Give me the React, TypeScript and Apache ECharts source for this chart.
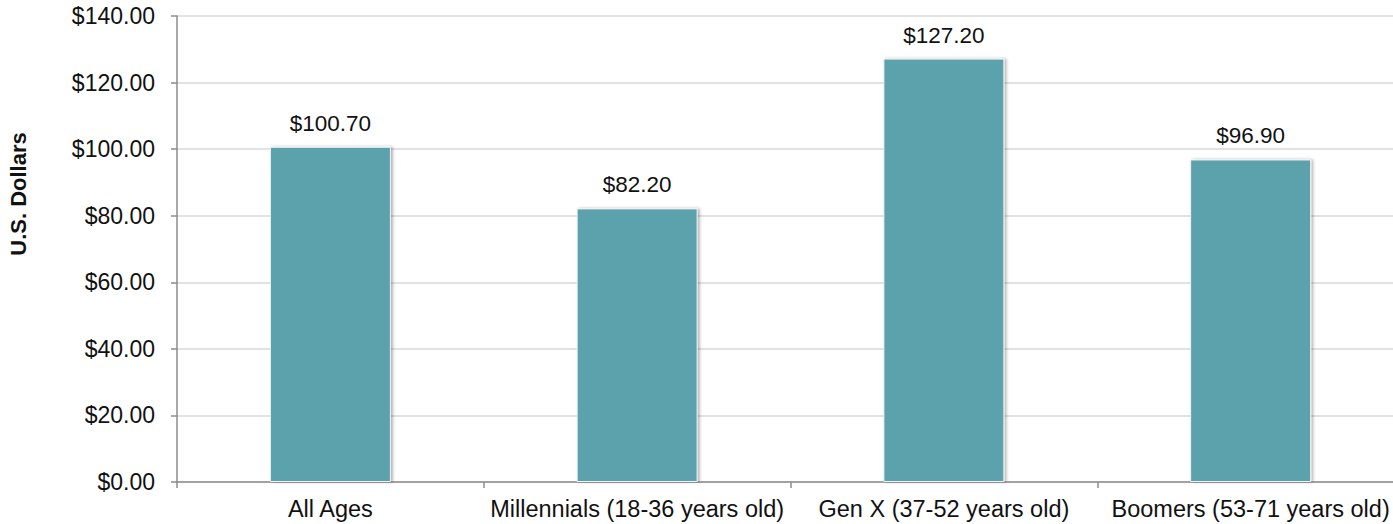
import React, { useEffect, useRef } from "react";
import * as echarts from "echarts";

const categories: string[] = [
  "All Ages",
  "Millennials (18-36 years old)",
  "Gen X (37-52 years old)",
  "Boomers (53-71 years old)",
];
const spending: number[] = [100.7, 82.2, 127.2, 96.9];
const yTicks = { min: 0, max: 140, interval: 20 };
const yTitle = "U.S. Dollars";

const FONT = "'Liberation Sans', Arial, sans-serif";

export default function App() {
  const ref = useRef<HTMLDivElement>(null);
  useEffect(() => {
    if (!ref.current) return;
    const chart = echarts.init(ref.current, undefined, { renderer: "svg" });
    chart.setOption({
      animation: false,
      backgroundColor: "#ffffff",
      textStyle: { fontFamily: FONT },
      grid: { left: 177, right: 0, top: 16, bottom: 42 },
      graphic: [
        {
          type: "text",
          x: 18,
          y: 194,
          rotation: Math.PI / 2,
          style: {
            text: yTitle,
            fill: "#111",
            font: "bold 22px 'Liberation Sans', Arial, sans-serif",
            align: "center",
            verticalAlign: "middle",
          },
        },
      ],
      xAxis: {
        type: "category",
        data: categories,
        boundaryGap: true,
        axisLine: { lineStyle: { color: "#8c8c8c", width: 1.5 } },
        axisTick: { show: true, length: 6, alignWithLabel: false, lineStyle: { color: "#8c8c8c", width: 1.5 } },
        axisLabel: { color: "#111", fontSize: 23.5, fontFamily: FONT, margin: 15, interval: 0 },
      },
      yAxis: {
        type: "value",
        min: yTicks.min,
        max: yTicks.max,
        interval: yTicks.interval,
        axisLine: { show: true, lineStyle: { color: "#8c8c8c", width: 1.5 } },
        axisTick: { show: true, length: 6, lineStyle: { color: "#8c8c8c", width: 1.5 } },
        axisLabel: {
          color: "#111",
          fontSize: 23,
          fontFamily: FONT,
          margin: 22,
          formatter: (v: number) => "$" + v.toFixed(2),
        },
        splitLine: { show: true, lineStyle: { color: "#d9d9d9", width: 1.5 } },
      },
      series: [
        {
          type: "bar",
          data: spending,
          barWidth: 121,
          itemStyle: {
            color: "#5ca2ac",
            borderColor: "#f2f2f2",
            borderWidth: 1,
            shadowColor: "rgba(0,0,0,0.3)",
            shadowBlur: 3,
            shadowOffsetX: 2,
            shadowOffsetY: 0,
          },
          label: {
            show: true,
            position: "top",
            distance: 12,
            color: "#111",
            fontSize: 22.5,
            fontFamily: FONT,
            formatter: (p: any) => "$" + Number(p.value).toFixed(2),
          },
        },
      ],
    });
    return () => chart.dispose();
  }, []);
  return (
    <div
      ref={ref}
      style={{ position: "fixed", left: 0, top: 0, width: 1404, height: 524 }}
    />
  );
}
